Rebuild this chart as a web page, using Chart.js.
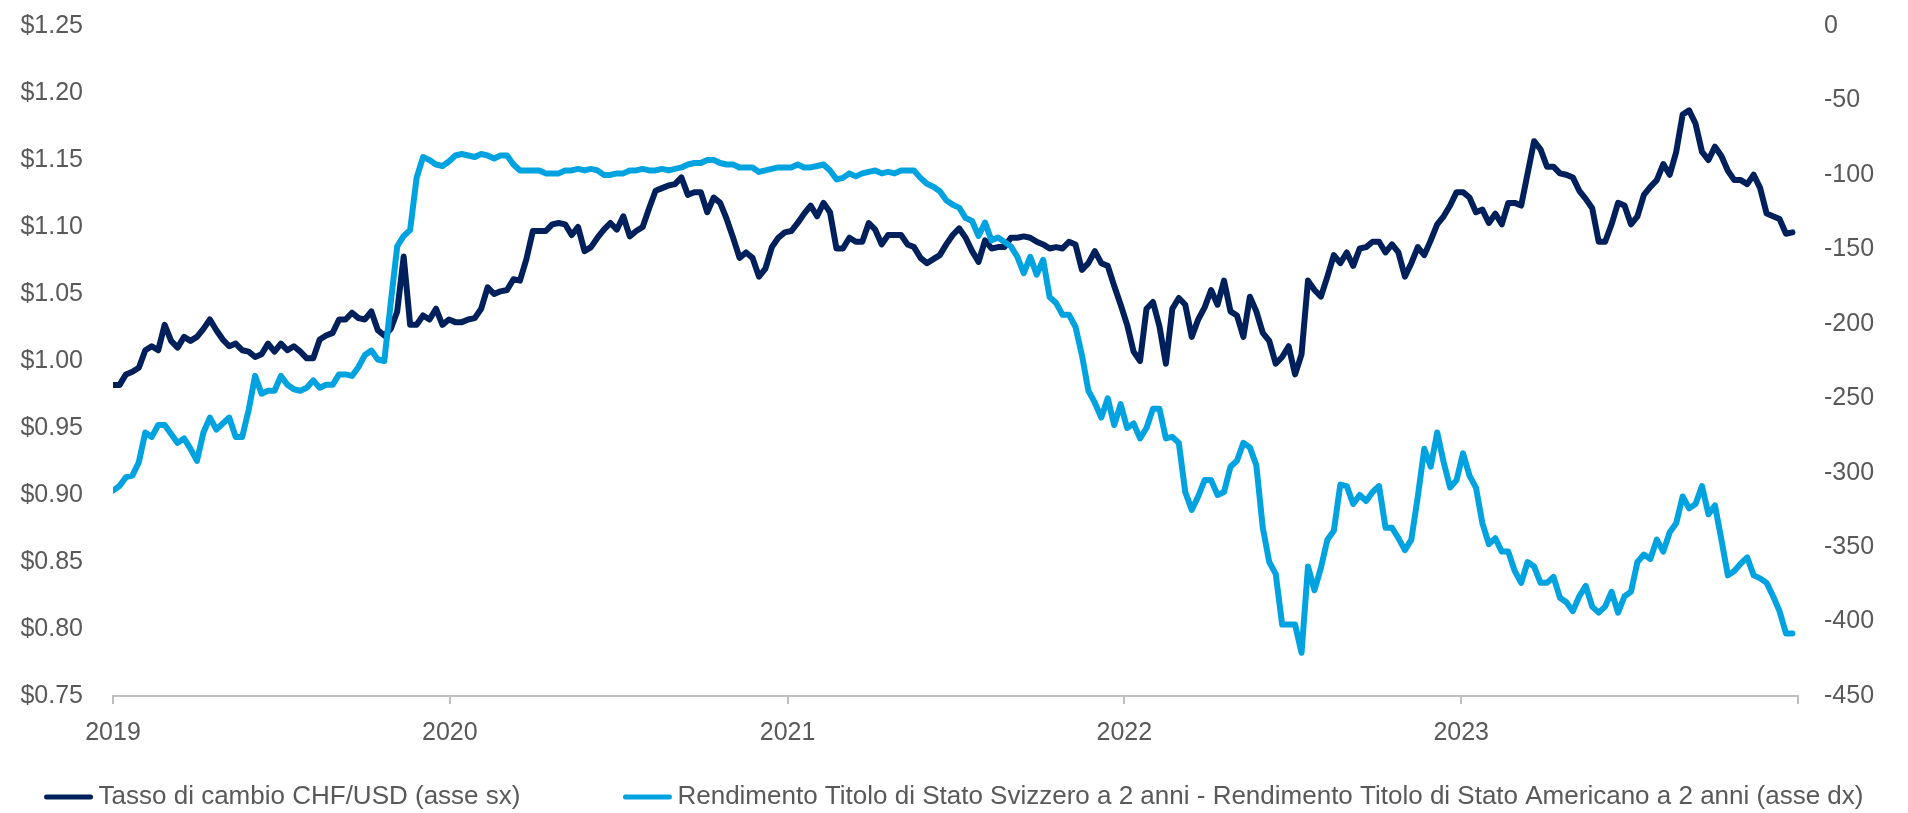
<!DOCTYPE html>
<html lang="it">
<head>
<meta charset="utf-8">
<title>CHF/USD e differenziale dei rendimenti a 2 anni</title>
<script src="https://cdn.jsdelivr.net/npm/chart.js@4.4.1/dist/chart.umd.min.js"></script>
<style>
  html, body { margin: 0; padding: 0; background: #fff; }
  #wrap { width: 1908px; height: 813px; position: relative; }
</style>
</head>
<body>
<div id="wrap"><canvas id="fx-spread-chart"></canvas></div>
<script>
// weekly observations, first one on 1 Jan 2019
var startDate = Date.UTC(2019, 0, 1);
var weekMs = 7 * 24 * 3600 * 1000;

var years = [2019, 2020, 2021, 2022, 2023, 2024];
var yearLabels = ['2019', '2020', '2021', '2022', '2023', ''];

var seriesNames = [
  'Tasso di cambio CHF/USD (asse sx)',
  'Rendimento Titolo di Stato Svizzero a 2 anni - Rendimento Titolo di Stato Americano a 2 anni (asse dx)'
];

// CHF/USD exchange rate, left axis
var chfUsd = [
  0.982, 0.982, 0.990, 0.992, 0.995, 1.008, 1.011, 1.008, 1.027, 1.015,
  1.010, 1.018, 1.015, 1.018, 1.024, 1.031, 1.023, 1.016, 1.011, 1.013,
  1.008, 1.007, 1.003, 1.005, 1.013, 1.007, 1.013, 1.008, 1.011, 1.007,
  1.002, 1.002, 1.016, 1.019, 1.021, 1.031, 1.031, 1.036, 1.032, 1.031,
  1.037, 1.023, 1.019, 1.024, 1.037, 1.078, 1.027, 1.027, 1.034, 1.031,
  1.039, 1.027,
  1.031, 1.029, 1.029, 1.031, 1.032, 1.039, 1.055, 1.050,
  1.052, 1.053, 1.061, 1.060, 1.076, 1.097, 1.097, 1.097, 1.102, 1.103,
  1.102, 1.094, 1.100, 1.082, 1.085, 1.092, 1.098, 1.103, 1.098, 1.108,
  1.093, 1.097, 1.100, 1.114, 1.127, 1.129, 1.131, 1.132, 1.137, 1.124,
  1.126, 1.126, 1.111, 1.122, 1.118, 1.106, 1.092, 1.077, 1.081, 1.077,
  1.063, 1.069, 1.085, 1.092,
  1.096, 1.097, 1.103, 1.110, 1.116, 1.108,
  1.118, 1.111, 1.084, 1.084, 1.092, 1.089, 1.089, 1.103, 1.098, 1.087,
  1.094, 1.094, 1.094, 1.087, 1.085, 1.077, 1.073, 1.076, 1.079, 1.087,
  1.094, 1.099, 1.092, 1.082, 1.074, 1.090, 1.084, 1.085, 1.085, 1.092,
  1.092, 1.093, 1.092, 1.089, 1.087, 1.084, 1.085, 1.084, 1.089, 1.087,
  1.068, 1.073, 1.082, 1.073, 1.071, 1.056,
  1.042, 1.027, 1.007, 1.000,
  1.039, 1.044, 1.026, 0.998, 1.039, 1.047, 1.042, 1.018, 1.031, 1.040,
  1.053, 1.042, 1.060, 1.037, 1.034, 1.018, 1.048, 1.037, 1.021, 1.015,
  0.998, 1.003, 1.011, 0.990, 1.005, 1.060, 1.053, 1.048, 1.063, 1.079,
  1.073, 1.081, 1.071, 1.084, 1.085, 1.089, 1.089, 1.081, 1.087, 1.081,
  1.063, 1.073, 1.085, 1.079, 1.090, 1.102, 1.108, 1.116,
  1.126, 1.126,
  1.122, 1.111, 1.113, 1.103, 1.110, 1.102, 1.118, 1.118, 1.116, 1.140,
  1.164, 1.158, 1.145, 1.145, 1.140, 1.139, 1.137, 1.127, 1.121, 1.114,
  1.089, 1.089, 1.102, 1.118, 1.116, 1.102, 1.108, 1.124, 1.130, 1.135,
  1.147, 1.139, 1.156, 1.184, 1.187, 1.177, 1.156, 1.150, 1.160, 1.153,
  1.142, 1.135, 1.135, 1.132, 1.139, 1.129, 1.110, 1.108, 1.106, 1.095,
  1.096
];

// Swiss 2y minus US 2y yield, basis points, right axis
var yieldSpread = [
  -312, -309, -303, -302, -293, -273, -276, -268, -268, -274,
  -280, -277, -284, -292, -273, -263, -271, -267, -263, -276,
  -276, -258, -235, -247, -245, -245, -235, -241, -244, -245,
  -243, -238, -243, -241, -241, -234, -234, -235, -229, -221,
  -218, -224, -225, -186, -148, -141, -137, -102, -88, -90,
  -93, -94,
  -91, -87, -86, -87, -88, -86, -87, -89,
  -87, -87, -93, -97, -97, -97, -97, -99, -99, -99,
  -97, -97, -96, -97, -96, -97, -100, -100, -99, -99,
  -97, -97, -96, -97, -97, -96, -97, -96, -95, -93,
  -92, -92, -90, -90, -92, -93, -93, -95, -95, -95,
  -98, -97, -96, -95,
  -95, -95, -93, -95, -95, -94,
  -93, -97, -103, -102, -99, -101, -99, -98, -97, -99,
  -98, -99, -97, -97, -97, -102, -106, -108, -111, -117,
  -120, -122, -129, -131, -141, -132, -144, -142, -145, -148,
  -155, -166, -155, -167, -157, -182, -186, -194, -194, -202,
  -221, -245, -253, -263, -250, -268,
  -254, -270, -267, -277,
  -270, -257, -257, -277, -276, -280, -313, -325, -316, -305,
  -305, -315, -313, -296, -292, -280, -283, -295, -337, -360,
  -368, -402, -402, -402, -421, -363, -379, -364, -345, -339,
  -308, -309, -321, -315, -319, -313, -309, -337, -337, -344,
  -352, -345, -316, -284, -296, -273, -293, -310,
  -305, -287,
  -302, -310, -334, -348, -344, -353, -353, -366, -374, -360,
  -363, -374, -374, -370, -384, -387, -393, -383, -376, -390,
  -394, -390, -380, -394, -383, -380, -360, -355, -358, -345,
  -353, -340, -334, -316, -324, -321, -309, -328, -322, -345,
  -369, -366, -361, -357, -369, -371, -374, -383, -393, -408,
  -408
];

var navy = '#00205b';
var lightBlue = '#00a3e0';
var textGrey = '#595959';
var axisGrey = '#bfbfbf';
var fontStack = '"Liberation Sans", Arial, sans-serif';

function toPoints(values) {
  return values.map(function(v, i) {
    return { x: startDate + i * weekMs, y: v };
  });
}

// the value axes should not push the plot down for their top label
function fixedWidth(width) {
  return function(scale) {
    scale.width = width;
    scale.paddingTop = 0;
    scale.paddingBottom = 0;
  };
}

// legend: short line sample + label, centred under the plot
var lineLegend = {
  id: 'lineLegend',
  afterDraw: function(chart) {
    var ctx = chart.ctx;
    var sample = 48, gapText = 6, gapItem = 103, y = 797;
    ctx.save();
    ctx.font = '26px ' + fontStack;
    ctx.textBaseline = 'middle';
    var items = chart.data.datasets.map(function(ds) {
      return { ds: ds, w: sample + gapText + ctx.measureText(ds.label).width };
    });
    var total = items.reduce(function(s, it) { return s + it.w; }, 0) + gapItem * (items.length - 1);
    var x = (chart.width - total) / 2;
    items.forEach(function(it) {
      ctx.strokeStyle = it.ds.borderColor;
      ctx.lineWidth = 5;
      ctx.lineCap = 'round';
      ctx.beginPath();
      ctx.moveTo(x + 2, y);
      ctx.lineTo(x + sample - 2, y);
      ctx.stroke();
      ctx.fillStyle = textGrey;
      ctx.fillText(it.ds.label, x + sample + gapText, y);
      x += it.w + gapItem;
    });
    ctx.restore();
  }
};

Chart.defaults.font.family = fontStack;
Chart.defaults.font.size = 25;
Chart.defaults.color = textGrey;

var ctx = document.getElementById('fx-spread-chart');
var chart = new Chart(ctx, {
  type: 'line',
  data: {
    datasets: [
      {
        label: seriesNames[0],
        data: toPoints(chfUsd),
        yAxisID: 'y',
        borderColor: navy,
        backgroundColor: navy,
        borderWidth: 6,
        pointRadius: 0,
        tension: 0,
        borderJoinStyle: 'round',
        borderCapStyle: 'round',
        order: 1
      },
      {
        label: seriesNames[1],
        data: toPoints(yieldSpread),
        yAxisID: 'y1',
        borderColor: lightBlue,
        backgroundColor: lightBlue,
        borderWidth: 6,
        pointRadius: 0,
        tension: 0,
        borderJoinStyle: 'round',
        borderCapStyle: 'round',
        order: 0
      }
    ]
  },
  options: {
    responsive: true,
    maintainAspectRatio: false,
    animation: false,
    layout: { padding: { top: 26, right: 0, bottom: 0, left: 0 } },
    plugins: {
      legend: { display: false },
      tooltip: { enabled: false }
    },
    scales: {
      x: {
        type: 'linear',
        min: Date.UTC(years[0], 0, 1),
        max: Date.UTC(years[years.length - 1], 0, 1),
        afterBuildTicks: function(scale) {
          scale.ticks = years.map(function(y) { return { value: Date.UTC(y, 0, 1) }; });
        },
        afterFit: function(scale) { scale.height = 117; },
        grid: {
          drawOnChartArea: false,
          drawTicks: true,
          tickLength: 8,
          color: axisGrey,
          lineWidth: 2
        },
        border: { display: true, color: axisGrey, width: 2 },
        ticks: {
          autoSkip: false,
          maxRotation: 0,
          padding: 14,
          color: textGrey,
          callback: function(value, index) { return yearLabels[index]; }
        }
      },
      y: {
        position: 'left',
        min: 0.75,
        max: 1.25,
        afterFit: fixedWidth(113),
        grid: { display: false },
        border: { display: false },
        ticks: {
          stepSize: 0.05,
          padding: 22,
          color: textGrey,
          callback: function(value) { return '$' + value.toFixed(2); }
        }
      },
      y1: {
        position: 'right',
        min: -450,
        max: 0,
        afterFit: fixedWidth(110),
        grid: { display: false },
        border: { display: false },
        ticks: { stepSize: 50, padding: 18, color: textGrey }
      }
    }
  },
  plugins: [lineLegend]
});
</script>
</body>
</html>
